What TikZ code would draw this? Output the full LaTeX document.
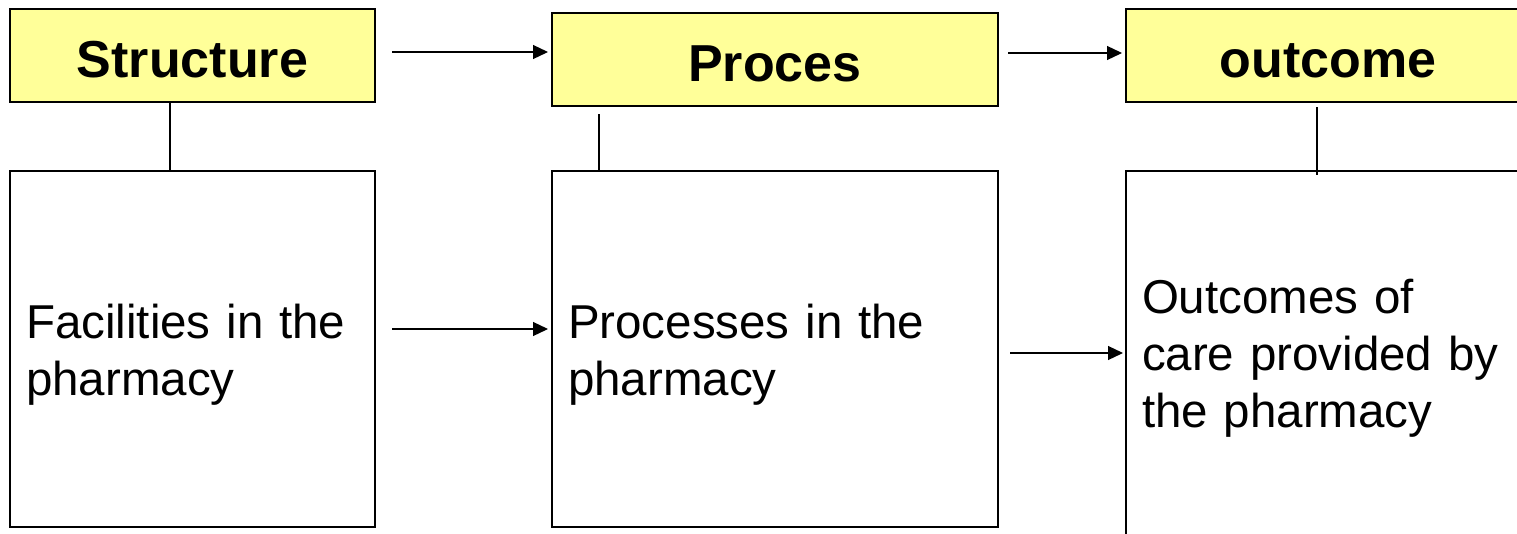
\documentclass[tikz,border=0pt]{standalone}
\usepackage{fontspec}
\setmainfont{Liberation Sans}
\usetikzlibrary{arrows.meta, positioning}
\definecolor{hdryellow}{HTML}{FFFF99}

\begin{document}
\begin{tikzpicture}[x=1pt, y=-1pt, >={Triangle[length=15pt, width=14pt]},
    hdr/.style={draw, line width=1.5pt, fill=hdryellow, minimum height=93pt, inner sep=0pt, outer sep=0pt, text height=43pt, text depth=0pt, font=\fontsize{52}{60}\selectfont\bfseries},
    body/.style={draw, line width=1.5pt, minimum height=356pt, inner xsep=16pt, inner ysep=0pt, outer sep=0pt, align=left, font=\fontsize{47.5}{57}\selectfont, execute at begin node={\rule{0pt}{45pt}}},
    flow/.style={->, line width=1.2pt},
    link/.style={line width=1.2pt}]
    \useasboundingbox (0,0) rectangle (1517,533);
    \clip (0,0) rectangle (1517,533);

    \node[hdr, minimum width=365pt] (str) at (192.5,55.5) {Structure};
    \node[hdr, minimum width=446pt, right=177pt of str, yshift=-4pt] (proc) {Proces};
    \node[hdr, minimum width=404pt, right=128pt of proc, yshift=4pt] (outc) {outcome};

    \node[body, text width=333pt, below=69pt of str] (fac) {Facilities in the\\pharmacy};
    \node[body, text width=414pt, below=65pt of proc] (procs) {Processes in the\\pharmacy};
    \node[body, text width=372pt, minimum height=364pt, below=69pt of outc] (outcs) {Outcomes of\\care provided by\\the pharmacy};

    \draw[flow, shorten <=17pt, shorten >=4pt] ([yshift=3.5pt]str.east) -- ([yshift=7.5pt]proc.west);
    \draw[flow, shorten <=10pt, shorten >=4pt] ([yshift=6.5pt]proc.east) -- ([yshift=2.5pt]outc.west);
    \draw[flow, shorten <=17pt, shorten >=4pt] ([yshift=20pt]fac.east) -- ([yshift=20pt]procs.west);
    \draw[flow, shorten <=12pt, shorten >=3pt] ([yshift=-4pt]procs.east) -- ([yshift=0pt]outcs.west);

    \draw[link] ([xshift=160pt]str.south west) -- ([xshift=160pt]fac.north west);
    \draw[link] ([xshift=47pt, yshift=-8pt]proc.south west) -- ([xshift=47pt]procs.north west);
    \draw[link] ([xshift=191pt, yshift=-5pt]outc.south west) -- ([xshift=191pt, yshift=-4pt]outcs.north west);
\end{tikzpicture}
\end{document}
